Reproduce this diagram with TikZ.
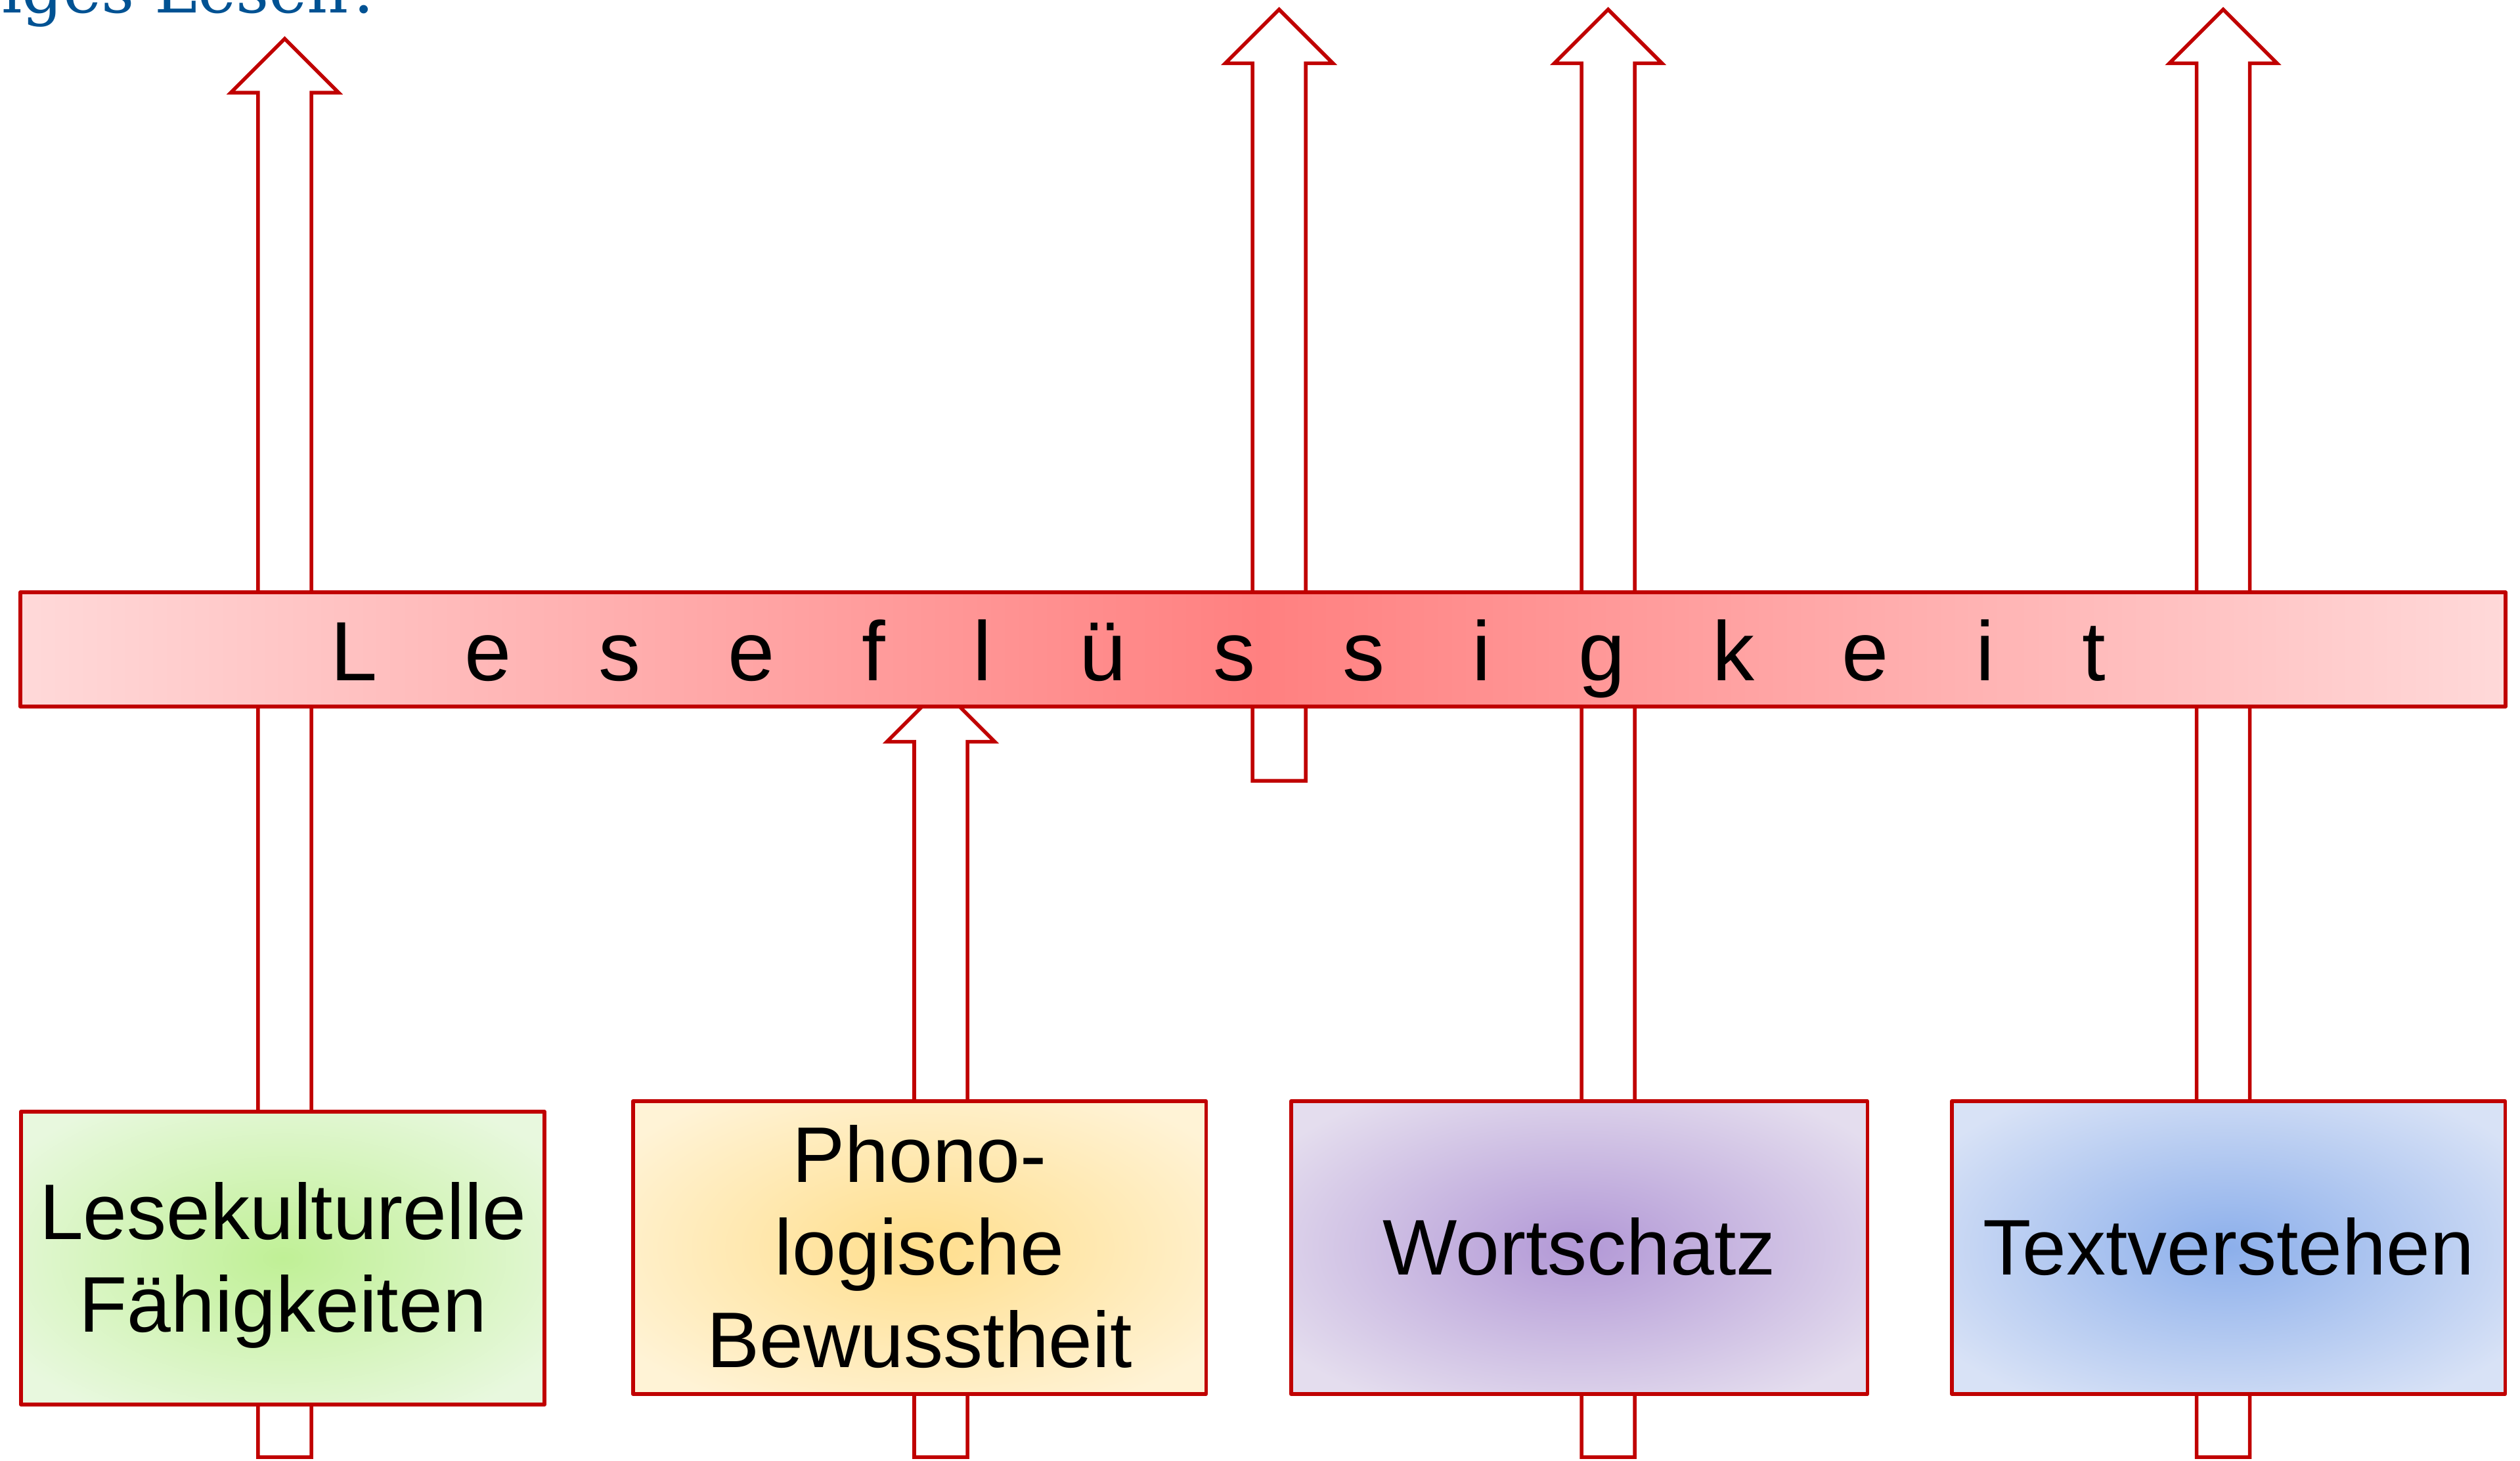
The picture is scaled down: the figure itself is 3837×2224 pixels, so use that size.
\documentclass[tikz,border=0pt]{standalone}
\usepackage{fontspec}
\setmainfont{Liberation Sans}
\newfontfamily\titlefont{DejaVu Serif}
\usetikzlibrary{calc}

\definecolor{arrowred}{RGB}{192,0,0}
\definecolor{titleblue}{RGB}{0,82,147}
\definecolor{baredge}{RGB}{255,217,217}
\definecolor{barmid}{RGB}{255,128,128}
\definecolor{greenin}{RGB}{192,240,150}
\definecolor{greenout}{RGB}{232,248,222}
\definecolor{yellowin}{RGB}{255,222,140}
\definecolor{yellowout}{RGB}{255,243,214}
\definecolor{purplein}{RGB}{178,152,214}
\definecolor{purpleout}{RGB}{228,221,238}
\definecolor{bluein}{RGB}{140,175,235}
\definecolor{blueout}{RGB}{216,226,246}

\pgfdeclareradialshading{shgreen}{\pgfpointorigin}{color(0bp)=(greenin); color(31bp)=(greenout); color(100bp)=(greenout)}
\pgfdeclareradialshading{shyellow}{\pgfpointorigin}{color(0bp)=(yellowin); color(31bp)=(yellowout); color(100bp)=(yellowout)}
\pgfdeclareradialshading{shpurple}{\pgfpointorigin}{color(0bp)=(purplein); color(31bp)=(purpleout); color(100bp)=(purpleout)}
\pgfdeclareradialshading{shblue}{\pgfpointorigin}{color(0bp)=(bluein); color(31bp)=(blueout); color(100bp)=(blueout)}

\newcommand\boxfont{\fontsize{1.2cm}{1.41cm}\selectfont}
\newcommand\barfont{\fontsize{1.28cm}{1.5cm}\selectfont}
\newcommand\pps{\rule[-0.212em]{0pt}{1.117em}}
\newcommand\lsp{\hspace{1.33cm}}

% hollow block arrow from a foot coordinate up to a tip coordinate
\newcommand\hollowarrow[2]{%
  \draw[arrowshape] let \p1=(#1), \p2=(#2) in
    (\x1-0.405cm,\y1) -- (\x1-0.405cm,\y2-0.82cm) -- (\x1-0.82cm,\y2-0.82cm)
    -- (\x2,\y2) -- (\x1+0.82cm,\y2-0.82cm) -- (\x1+0.405cm,\y2-0.82cm)
    -- (\x1+0.405cm,\y1) -- cycle;}

\begin{document}
\begin{tikzpicture}[x=0.01cm,y=-0.01cm,
  arrowshape/.style={draw=arrowred, fill=white, line width=0.055cm, line join=miter},
  barbox/.style={draw=arrowred, line width=0.055cm, line join=round,
    minimum width=37.82cm, minimum height=1.74cm, inner sep=0pt,
    left color=baredge, right color=baredge, middle color=barmid},
  fbox/.style={draw=arrowred, line width=0.055cm, line join=round,
    minimum height=4.46cm, inner sep=0pt, align=center, font=\boxfont, shade},
  lettertext/.style={font=\barfont, inner sep=0pt, outer sep=0pt, anchor=base west},
  titletext/.style={font=\titlefont\fontsize{0.98cm}{1.2cm}\selectfont, text=titleblue,
    inner sep=0pt, anchor=base east}]
\useasboundingbox (0,0) rectangle (3837,2224);

% partially visible heading
\node[titletext] (title) at (584,19) {flüssiges Lesen?};

% arrow end points
\coordinate (a1foot) at (433.5,2219);  \coordinate (a1tip) at (433.5,59);
\coordinate (a2foot) at (1432.5,2219); \coordinate (a2tip) at (1432.5,1047.5);
\coordinate (a3foot) at (1947.5,1189); \coordinate (a3tip) at (1947.5,14.4);
\coordinate (a4foot) at (2448.5,2219); \coordinate (a4tip) at (2448.5,14.4);
\coordinate (a5foot) at (3385,2219);   \coordinate (a5tip) at (3385,14.4);

\hollowarrow{a1foot}{a1tip}
\hollowarrow{a2foot}{a2tip}
\hollowarrow{a3foot}{a3tip}
\hollowarrow{a4foot}{a4tip}
\hollowarrow{a5foot}{a5tip}

% bar
\node[barbox] (bar) at (1923,989) {};
\node[lettertext] (bartext) at (503,1036)
  {L\lsp e\lsp s\lsp e\lsp f\lsp l\lsp ü\lsp s\lsp s\lsp i\lsp g\lsp k\lsp e\lsp i\lsp t};

% boxes
\node[fbox, minimum width=7.97cm, shading=shgreen] (box1) at (430.5,1916)
  {\pps Lesekulturelle\\\pps Fähigkeiten};
\node[fbox, minimum width=8.72cm, shading=shyellow] (box2) at (1400,1900)
  {\pps Phono-\\\pps logische\\\pps Bewusstheit};
\node[fbox, minimum width=8.77cm, shading=shpurple] (box3) at (2404.5,1900)
  {\pps Wortschatz};
\node[fbox, minimum width=8.42cm, shading=shblue] (box4) at (3393,1900)
  {\pps Textverstehen};
\end{tikzpicture}
\end{document}
